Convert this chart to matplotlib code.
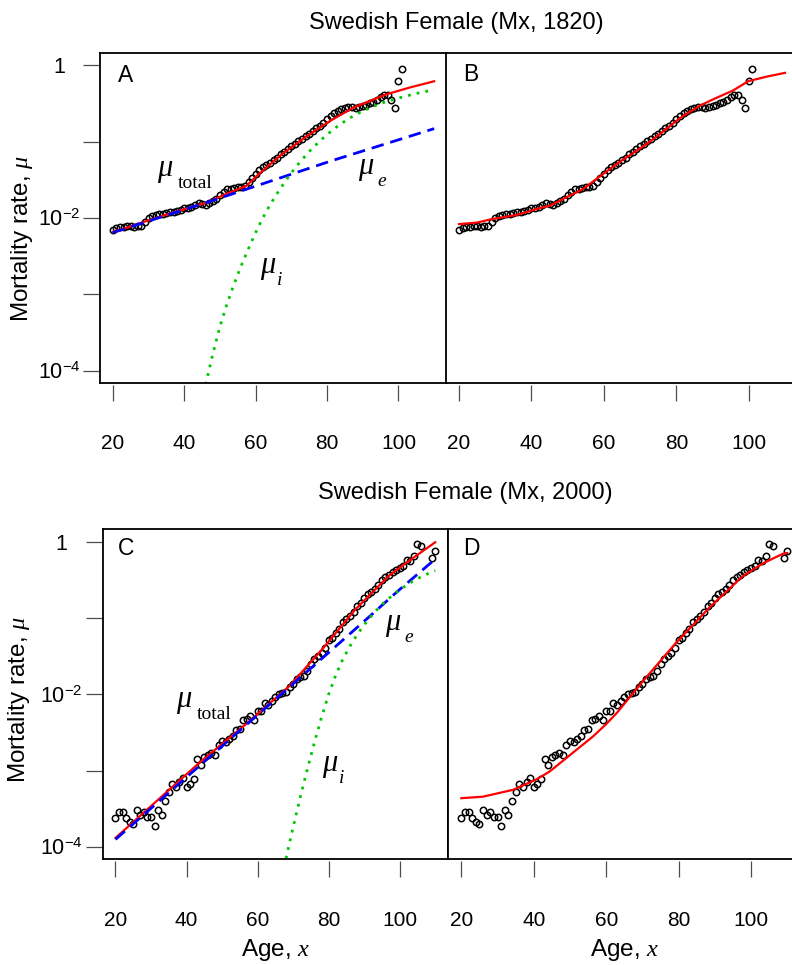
import numpy as np
import matplotlib
matplotlib.use('Agg')
import matplotlib.pyplot as plt
from matplotlib.ticker import NullLocator

plt.rcParams['font.family'] = ['Liberation Sans', 'DejaVu Sans']
plt.rcParams['mathtext.fontset'] = 'custom'
plt.rcParams['mathtext.rm'] = 'Liberation Sans'
plt.rcParams['mathtext.it'] = 'Liberation Serif:italic'
plt.rcParams['mathtext.sf'] = 'Liberation Serif'
plt.rcParams['axes.linewidth'] = 1.3

# observed log10 death rates, Swedish females 1820 (ages 20-101)
ages_1820 = np.arange(20, 102)
log_mx_1820 = [
    -2.153, -2.13, -2.12, -2.12, -2.11, -2.11, -2.12, -2.11, -2.10, -2.05,
    -2.00, -1.98, -1.96, -1.95, -1.95, -1.94, -1.925, -1.92, -1.91, -1.90,
    -1.875, -1.865, -1.85, -1.83, -1.81, -1.815, -1.835, -1.80, -1.78, -1.75,
    -1.70, -1.655, -1.625, -1.615, -1.61, -1.60, -1.59, -1.575, -1.53, -1.48,
    -1.42, -1.37, -1.33, -1.30, -1.275, -1.245, -1.21, -1.165, -1.13, -1.095,
    -1.06, -1.03, -0.995, -0.96, -0.93, -0.90, -0.86, -0.82, -0.79, -0.75,
    -0.71, -0.665, -0.625, -0.595, -0.575, -0.555, -0.545, -0.55, -0.555, -0.55,
    -0.53, -0.515, -0.495, -0.475, -0.45, -0.42, -0.385, -0.395, -0.45, -0.555,
    -0.21, -0.055]

# observed log10 death rates, Swedish females 2000
ages_2000 = list(range(20, 107)) + [109, 110]
log_mx_2000 = [
    -3.62, -3.545, -3.545, -3.62, -3.675, -3.70, -3.52, -3.575, -3.54, -3.60,
    -3.605, -3.73, -3.52, -3.575, -3.40, -3.277, -3.18, -3.21, -3.146, -3.09,
    -3.21, -3.17, -3.107, -2.853, -2.92, -2.82, -2.80, -2.765, -2.80, -2.665,
    -2.61, -2.625, -2.58, -2.54, -2.47, -2.46, -2.33, -2.32, -2.285, -2.33,
    -2.22, -2.22, -2.12, -2.14, -2.09, -2.04, -2.00, -1.98, -1.965, -1.90,
    -1.87, -1.795, -1.77, -1.76, -1.69, -1.605, -1.54, -1.50, -1.46, -1.39,
    -1.29, -1.26, -1.20, -1.14, -1.06, -1.015, -0.97, -0.92, -0.85, -0.80,
    -0.745, -0.69, -0.66, -0.62, -0.57, -0.51, -0.47, -0.44, -0.40, -0.37,
    -0.35, -0.325, -0.24, -0.25, -0.185, -0.035, -0.06,
    -0.22, -0.12]

# panel A fits (1820)
a_tot_age = [20, 25, 29.4, 36.8, 46.2, 52, 57.4, 60.3, 64, 67.7, 70.5, 74.3, 80.8, 87.4, 96.7, 103.3, 110]
a_tot_log = [-2.18, -2.11, -2.04, -1.93, -1.80, -1.68, -1.58, -1.45, -1.30, -1.15, -1.06, -0.93, -0.73, -0.555, -0.38, -0.29, -0.21]
a_ext_age = [20, 48, 81, 110]
a_ext_log = [-2.19, -1.77, -1.255, -0.83]
a_int_age = [46, 48, 50, 52, 54, 56, 58, 60, 62, 64, 66, 68, 70, 72, 75, 78, 82, 86, 90, 95, 100, 105, 110]
a_int_log = [-4.18, -3.78, -3.42, -3.12, -2.86, -2.62, -2.40, -2.19, -2.00, -1.83, -1.68, -1.54,
             -1.41, -1.29, -1.13, -0.99, -0.83, -0.70, -0.60, -0.50, -0.43, -0.37, -0.32]

# panel B fit (1820)
b_fit_age = [20, 25, 28.5, 35.9, 42.3, 45, 50, 54.3, 57.9, 62.5, 65, 70, 72.7, 76, 80, 82, 86.5, 90, 95.7, 99.8, 104.9, 110]
b_fit_log = [-2.08, -2.06, -2.02, -1.96, -1.87, -1.84, -1.72, -1.62, -1.49, -1.33, -1.245, -1.09,
             -1.0, -0.88, -0.73, -0.66, -0.53, -0.45, -0.33, -0.21, -0.15, -0.10]

# panel C fits (2000)
c_tot_age = [20, 44, 57, 69, 78.2, 87.6, 96.9, 103, 110]
c_tot_log = [-3.88, -2.88, -2.38, -1.89, -1.41, -0.885, -0.45, -0.24, -0.01]
c_ext_age = [20, 70.8, 80.1, 91.3, 99.7, 110]
c_ext_log = [-3.90, -1.83, -1.45, -0.99, -0.64, -0.23]
c_int_age = [68, 70, 72, 74, 76, 78, 80, 82, 84, 86, 88, 90, 93, 96, 100, 104, 107, 110]
c_int_log = [-4.15, -3.74, -3.35, -2.98, -2.63, -2.30, -2.00, -1.75, -1.54, -1.37, -1.22, -1.09,
             -0.92, -0.78, -0.63, -0.51, -0.44, -0.38]

# panel D fit (2000)
d_fit_age = [20, 26, 34.3, 40.7, 44.4, 50.8, 56.4, 60, 63, 70.2, 79.4, 88.6, 97.8, 103.3, 108.8, 110]
d_fit_log = [-3.36, -3.34, -3.25, -3.115, -3.01, -2.765, -2.55, -2.39, -2.24, -1.825, -1.32,
             -0.86, -0.45, -0.285, -0.16, -0.15]

W, H = 792, 965
fig = plt.figure(figsize=(W / 100, H / 100), dpi=100)


def px_axes(left, top, right, bottom):
    return fig.add_axes([left / W, 1 - bottom / H, (right - left) / W, (bottom - top) / H])


ax_a = px_axes(100, 53, 447, 383)
ax_b = px_axes(446, 53, 798, 383)
ax_c = px_axes(102.7, 529.3, 448, 859.3)
ax_d = px_axes(448.3, 529.3, 800.3, 859.3)

for ax in [ax_a, ax_b, ax_c, ax_d]:
    ax.set_yscale('log')
    ax.set_xlim(16.4, 113.6)
    ax.set_ylim(10 ** -4.16, 10 ** 0.16)
    ax.set_xticks([20, 40, 60, 80, 100])
    ax.yaxis.set_minor_locator(NullLocator())
    ax.xaxis.set_minor_locator(NullLocator())
    # R-style: x ticks start a little below the box
    ax.spines['bottom'].set_position(('outward', 1.5))
    ax.spines['bottom'].set_color('none')
    ax.plot([0, 1], [0, 0], transform=ax.transAxes, color='black', lw=1.3,
            clip_on=False, zorder=6, solid_capstyle='projecting')
    ax.tick_params(axis='x', direction='out', length=11.5, width=0.9, color='0.3',
                   pad=24, labelsize=15)
    ax.tick_params(axis='y', direction='out', length=12.2, width=0.9, color='0.3',
                   pad=17.3, labelsize=15.5)

for ax in [ax_a, ax_c]:
    ax.set_yticks([1e-4, 1e-3, 1e-2, 1e-1, 1],
                  ['$10^{-4}$', '', '$10^{-2}$', '', '$1$'])
    plt.setp(ax.get_yticklabels(), ha='center')
    ax.set_ylabel('Mortality rate, $\\mu$', fontsize=17.5)
    ax.yaxis.label.set_va('center')
for ax in [ax_b, ax_d]:
    ax.tick_params(axis='y', left=False, labelleft=False)

ax_a.yaxis.set_label_coords(-0.225, 0.439)
ax_c.yaxis.set_label_coords(-0.242, 0.483)

for ax in [ax_c, ax_d]:
    ax.set_xlabel('Age, $x$', fontsize=17.5)
    ax.xaxis.label.set_va('center')
    ax.xaxis.set_label_coords(0.5, -0.275)

pt = dict(ls='none', marker='o', mfc='none', mec='black', ms=4.6, mew=1.1, zorder=2)
red = dict(color='#FF0000', lw=1.6, zorder=3)
blue = dict(color='#0000FF', lw=2.0, ls=(0, (4.5, 2.5)), zorder=4)
green = dict(color='#00C800', lw=2.0, ls=(0, (1, 2.2)), zorder=4)

# A
ax_a.plot(ages_1820, 10 ** np.array(log_mx_1820), **pt)
ax_a.plot(a_tot_age, 10 ** np.array(a_tot_log), **red)
ax_a.plot(a_ext_age, 10 ** np.array(a_ext_log), **blue)
ax_a.plot(a_int_age, 10 ** np.array(a_int_log), **green)

# B
ax_b.plot(ages_1820, 10 ** np.array(log_mx_1820), **pt)
ax_b.plot(b_fit_age, 10 ** np.array(b_fit_log), **red)

# C
ax_c.plot(ages_2000, 10 ** np.array(log_mx_2000), **pt)
ax_c.plot(c_tot_age, 10 ** np.array(c_tot_log), **red)
ax_c.plot(c_ext_age, 10 ** np.array(c_ext_log), **blue)
ax_c.plot(c_int_age, 10 ** np.array(c_int_log), **green)

# D
ax_d.plot(ages_2000, 10 ** np.array(log_mx_2000), **pt)
ax_d.plot(d_fit_age, 10 ** np.array(d_fit_log), **red)


# curve labels: italic serif mu with a lowered subscript, R plotmath style
def mu_label(ax, x, y, sub, sub_style, dx):
    ax.text(x, y, 'μ', family='Liberation Serif', style='italic', fontsize=22,
            ha='left', va='baseline')
    ax.annotate(sub, xy=(x, y), xytext=(dx, -12), textcoords='offset pixels',
                family='Liberation Serif', style=sub_style, fontsize=14,
                ha='left', va='baseline')


mu_label(ax_a, 32.3, 10 ** -1.444, 'total', 'normal', 21)
mu_label(ax_a, 88.7, 10 ** -1.43, 'e', 'italic', 19)
mu_label(ax_a, 61.2, 10 ** -2.717, 'i', 'italic', 17)
mu_label(ax_c, 37.1, 10 ** -2.17, 'total', 'normal', 21)
mu_label(ax_c, 96.0, 10 ** -1.16, 'e', 'italic', 19)
mu_label(ax_c, 78.2, 10 ** -3.0, 'i', 'italic', 17)

# panel letters
for ax, letter, x, y in [(ax_a, 'A', 0.075, 0.933), (ax_b, 'B', 0.070, 0.936),
                         (ax_c, 'C', 0.0675, 0.943), (ax_d, 'D', 0.065, 0.943)]:
    ax.text(x, y, letter, transform=ax.transAxes, fontsize=16.5, ha='center', va='center')

fig.text(456.5 / W, 1 - 29.5 / H, 'Swedish Female (Mx, 1820)', fontsize=17,
         ha='center', va='baseline')
fig.text(465.7 / W, 1 - 499 / H, 'Swedish Female (Mx, 2000)', fontsize=17,
         ha='center', va='baseline')

fig.savefig('out.png', dpi=100)
